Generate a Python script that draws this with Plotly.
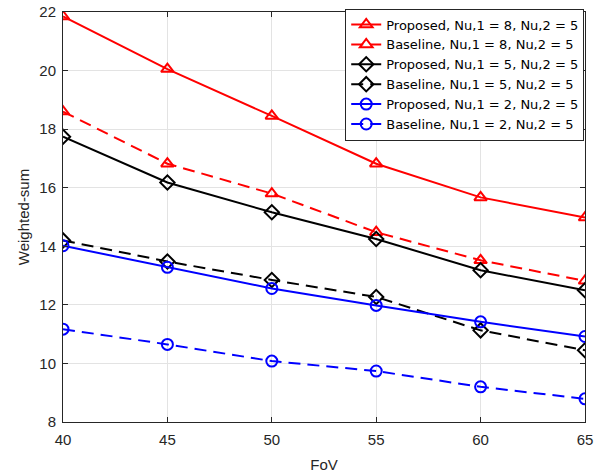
import plotly.graph_objects as go

fov = [40, 45, 50, 55, 60, 65]
prop_8 = [21.85, 20.05, 18.45, 16.82, 15.67, 14.98]
base_8 = [18.6, 16.82, 15.8, 14.48, 13.52, 12.82]
prop_5 = [17.74, 16.18, 15.16, 14.25, 13.18, 12.5]
base_5 = [14.2, 13.48, 12.85, 12.27, 11.13, 10.45]
prop_2 = [14.02, 13.28, 12.56, 11.98, 11.42, 10.92]
base_2 = [11.17, 10.65, 10.08, 9.74, 9.2, 8.79]

names = [
    "Proposed, Nu,1 = 8, Nu,2 = 5",
    "Baseline, Nu,1 = 8, Nu,2 = 5",
    "Proposed, Nu,1 = 5, Nu,2 = 5",
    "Baseline, Nu,1 = 5, Nu,2 = 5",
    "Proposed, Nu,1 = 2, Nu,2 = 5",
    "Baseline, Nu,1 = 2, Nu,2 = 5",
]
series = [prop_8, base_8, prop_5, base_5, prop_2, base_2]
colors = ["#ff0000", "#ff0000", "#000000", "#000000", "#0000ff", "#0000ff"]
symbols = ["triangle-up-open", "triangle-up-open", "diamond-open", "diamond-open",
           "circle-open", "circle-open"]
dashes = ["solid", "12px,7px", "solid", "12px,7px", "solid", "12px,7px"]

fig = go.Figure()
for n, s, c, sym, d in zip(names, series, colors, symbols, dashes):
    fig.add_trace(go.Scatter(
        x=fov, y=s, name=n, mode="lines+markers",
        line=dict(color=c, width=2, dash=d),
        marker=dict(symbol=sym, size=11, color=c, line=dict(color=c, width=2)),
    ))

axis_common = dict(
    showline=True, linecolor="#262626", linewidth=1, mirror="ticks",
    ticks="inside", ticklen=5, tickcolor="#262626",
    showgrid=True, gridcolor="#e3e3e3", gridwidth=1, zeroline=False,
    tickfont=dict(family="Liberation Sans, Arial", size=15, color="#262626"),
)

fig.update_layout(
    width=595, height=473,
    margin=dict(l=63, r=10, t=11, b=51),
    paper_bgcolor="white", plot_bgcolor="white",
    font=dict(family="Liberation Sans, Arial", color="#262626"),
    xaxis=dict(range=[40, 65], tickvals=[40, 45, 50, 55, 60, 65],
               ticklabelstandoff=4, automargin=False,
               title=dict(text="FoV", font=dict(size=15)), **axis_common),
    yaxis=dict(range=[8, 22], tickvals=[8, 10, 12, 14, 16, 18, 20, 22],
               ticklabelstandoff=3, automargin="left",
               title=dict(text="Weighted-sum", font=dict(size=15), standoff=6), **axis_common),
    legend=dict(x=0.9985, y=1.006, xanchor="right", yanchor="top",
                bgcolor="white", bordercolor="#262626", borderwidth=1,
                font=dict(family="DejaVu Sans", size=13, color="#000000"),
                tracegroupgap=0, itemwidth=30),
    showlegend=True,
)

fig.write_html("out.html", config={"displayModeBar": False})
with open("out.html", encoding="utf-8") as f:
    html = f.read()
html = html.replace("<head>", "<head><style>body{margin:0;}</style>", 1)
with open("out.html", "w", encoding="utf-8") as f:
    f.write(html)
